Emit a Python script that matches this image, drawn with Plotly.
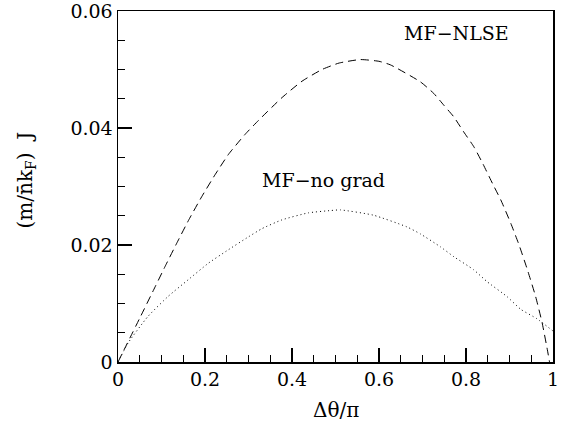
import plotly.graph_objects as go

# MF-NLSE (dashed)
nlse_x = [0, 0.05, 0.085, 0.108, 0.135, 0.162, 0.192, 0.223, 0.254, 0.292, 0.323,
          0.377, 0.423, 0.469, 0.508, 0.557, 0.600, 0.626, 0.695, 0.726, 0.749, 0.772,
          0.795, 0.818, 0.838, 0.861, 0.880, 0.903, 0.922, 0.941, 0.960, 0.975,
          0.987, 0.992]
nlse_y = [0, 0.0075, 0.0128, 0.0163, 0.0203, 0.0242, 0.0282, 0.0320, 0.0355, 0.0389,
          0.0413, 0.0452, 0.0480, 0.0500, 0.0511, 0.0517, 0.0514, 0.0508, 0.0479, 0.0459,
          0.0439, 0.0419, 0.0393, 0.0368, 0.0340, 0.0305, 0.0277, 0.0237, 0.0200,
          0.0158, 0.0112, 0.0067, 0.0021, 0.0]

# MF-no grad (dotted)
nograd_x = [0, 0.0235, 0.069, 0.115, 0.162, 0.208, 0.254, 0.300, 0.331, 0.377, 0.438,
            0.49, 0.511, 0.587, 0.664, 0.695, 0.741, 0.772, 0.817, 0.849, 0.894,
            0.926, 0.963, 1.0]
nograd_y = [0, 0.0033, 0.0078, 0.0112, 0.0141, 0.0169, 0.0192, 0.0214, 0.0228, 0.0243,
            0.0255, 0.0259, 0.0260, 0.0251, 0.0231, 0.0219, 0.0197, 0.0180, 0.0158,
            0.0137, 0.0112, 0.0090, 0.0074, 0.0053]

labels = ["MF\u2212NLSE", "MF\u2212no grad"]
label_x = [0.778, 0.473]
label_y = [0.0562, 0.0311]

x_title = "\u0394\u03b8/\u03c0"
y_title = "(m/n\u0304k<sub>F</sub>)  J"

FONT = "DejaVu Serif"

fig = go.Figure()
fig.add_trace(go.Scatter(x=nlse_x, y=nlse_y, mode="lines", name=labels[0],
                         line=dict(color="black", width=1, dash="8px,5px",
                                   shape="spline", smoothing=0.5)))
fig.add_trace(go.Scatter(x=nograd_x, y=nograd_y, mode="lines", name=labels[1],
                         line=dict(color="black", width=1, dash="1px,3px",
                                   shape="spline", smoothing=0.5)))

for t, xx, yy in zip(labels, label_x, label_y):
    fig.add_annotation(x=xx, y=yy, text=t, showarrow=False,
                       font=dict(family=FONT, size=19, color="black"))

# axis titles
fig.add_annotation(xref="paper", yref="paper", x=0.5, y=0, yanchor="middle",
                   yshift=-48, text=x_title, showarrow=False,
                   font=dict(family=FONT, size=20, color="black"))
fig.add_annotation(xref="paper", yref="paper", x=0, y=0.5, xanchor="center",
                   xshift=-93, yshift=6, text=y_title, textangle=-90, showarrow=False,
                   font=dict(family=FONT, size=20, color="black"))

axis_common = dict(
    showgrid=False, zeroline=False, showline=True, linecolor="black", linewidth=1.5,
    mirror=True, ticks="inside", ticklen=14, tickwidth=1.2, tickcolor="black",
    automargin=False, ticklabeloverflow="allow",
    tickfont=dict(family=FONT, size=19, color="black"),
)

fig.update_xaxes(range=[0, 1], dtick=0.2, tick0=0,
                 minor=dict(dtick=0.05, ticks="inside", ticklen=7, tickcolor="black",
                            tickwidth=1, showgrid=False),
                 **axis_common)
fig.update_yaxes(range=[0, 0.06], dtick=0.02, tick0=0,
                 minor=dict(dtick=0.005, ticks="inside", ticklen=7, tickcolor="black",
                            tickwidth=1, showgrid=False),
                 **axis_common)

fig.update_layout(
    width=570, height=435,
    margin=dict(l=118, r=17, t=11, b=73),
    paper_bgcolor="white", plot_bgcolor="white",
    showlegend=False,
)

# remove the browser's default 8px page margin so the figure sits at the corner
fig.write_html("out.html",
               config={"displayModeBar": False, "staticPlot": True},
               post_script="document.body.style.margin='0';document.body.style.overflow='hidden';")
